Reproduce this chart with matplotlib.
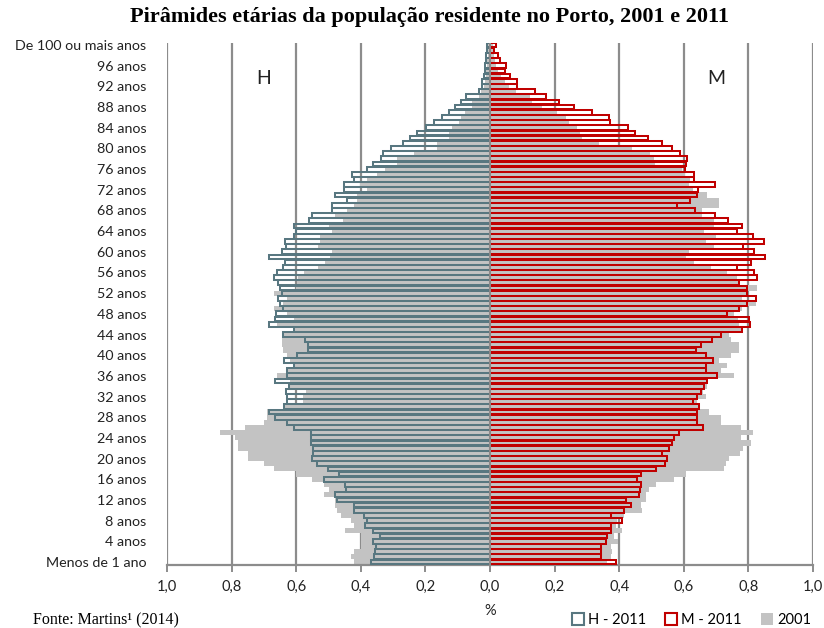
import numpy as np
import matplotlib.pyplot as plt
from matplotlib.patches import Patch

# ── Data (% of resident population, index = age; 0 = "Menos de 1 ano", 100 = "100+") ──
AGES = np.arange(101)

H_2011 = [0.368, 0.358, 0.357, 0.352, 0.362, 0.340, 0.362, 0.388, 0.381, 0.391,
          0.420, 0.420, 0.474, 0.479, 0.446, 0.448, 0.515, 0.467, 0.502, 0.536,
          0.551, 0.548, 0.548, 0.553, 0.553, 0.553, 0.606, 0.629, 0.666, 0.683,
          0.639, 0.629, 0.629, 0.631, 0.621, 0.667, 0.627, 0.630, 0.606, 0.637,
          0.598, 0.564, 0.564, 0.574, 0.641, 0.608, 0.683, 0.665, 0.662, 0.640,
          0.650, 0.655, 0.645, 0.650, 0.655, 0.668, 0.660, 0.640, 0.634, 0.683,
          0.645, 0.631, 0.634, 0.608, 0.600, 0.606, 0.560, 0.551, 0.489, 0.489,
          0.443, 0.481, 0.453, 0.451, 0.420, 0.427, 0.381, 0.362, 0.339, 0.332,
          0.306, 0.270, 0.249, 0.226, 0.198, 0.174, 0.150, 0.126, 0.107, 0.091,
          0.073, 0.035, 0.026, 0.024, 0.020, 0.017, 0.015, 0.013, 0.011, 0.010, 0.009]

H_2001 = [0.420, 0.430, 0.420, 0.400, 0.400, 0.400, 0.450, 0.420, 0.430, 0.460,
          0.474, 0.480, 0.480, 0.515, 0.500, 0.515, 0.550, 0.600, 0.670, 0.700,
          0.750, 0.750, 0.780, 0.780, 0.790, 0.836, 0.760, 0.700, 0.690, 0.690,
          0.639, 0.580, 0.580, 0.570, 0.621, 0.620, 0.660, 0.630, 0.606, 0.620,
          0.630, 0.640, 0.644, 0.644, 0.640, 0.610, 0.660, 0.606, 0.630, 0.670,
          0.640, 0.630, 0.668, 0.600, 0.598, 0.593, 0.577, 0.531, 0.510, 0.495,
          0.490, 0.531, 0.526, 0.526, 0.490, 0.497, 0.454, 0.479, 0.443, 0.422,
          0.412, 0.412, 0.381, 0.401, 0.381, 0.350, 0.324, 0.288, 0.288, 0.236,
          0.164, 0.164, 0.128, 0.128, 0.117, 0.097, 0.091, 0.076, 0.055, 0.055,
          0.035, 0.028, 0.020, 0.016, 0.013, 0.011, 0.009, 0.008, 0.007, 0.006, 0.005]

M_2011 = [0.390, 0.343, 0.343, 0.343, 0.358, 0.363, 0.374, 0.374, 0.410, 0.374,
          0.415, 0.436, 0.420, 0.462, 0.465, 0.469, 0.456, 0.467, 0.513, 0.541,
          0.547, 0.533, 0.554, 0.565, 0.570, 0.585, 0.658, 0.640, 0.642, 0.642,
          0.648, 0.627, 0.642, 0.653, 0.663, 0.673, 0.704, 0.668, 0.668, 0.689,
          0.668, 0.637, 0.653, 0.686, 0.715, 0.780, 0.806, 0.802, 0.735, 0.772,
          0.795, 0.823, 0.795, 0.797, 0.772, 0.828, 0.818, 0.764, 0.808, 0.851,
          0.818, 0.782, 0.847, 0.815, 0.764, 0.780, 0.737, 0.697, 0.636, 0.579,
          0.620, 0.641, 0.643, 0.697, 0.633, 0.633, 0.605, 0.608, 0.610, 0.589,
          0.565, 0.533, 0.488, 0.450, 0.427, 0.373, 0.367, 0.316, 0.259, 0.213,
          0.174, 0.139, 0.084, 0.084, 0.063, 0.046, 0.048, 0.032, 0.025, 0.012, 0.020]

M_2001 = [0.363, 0.374, 0.379, 0.374, 0.396, 0.384, 0.410, 0.390, 0.394, 0.415,
          0.472, 0.467, 0.482, 0.482, 0.492, 0.513, 0.570, 0.606, 0.725, 0.730,
          0.740, 0.774, 0.782, 0.808, 0.777, 0.813, 0.777, 0.714, 0.714, 0.678,
          0.648, 0.640, 0.668, 0.660, 0.673, 0.673, 0.756, 0.714, 0.735, 0.710,
          0.746, 0.771, 0.771, 0.746, 0.740, 0.780, 0.770, 0.767, 0.756, 0.780,
          0.823, 0.780, 0.800, 0.828, 0.770, 0.766, 0.735, 0.684, 0.632, 0.606,
          0.616, 0.694, 0.668, 0.699, 0.663, 0.694, 0.692, 0.656, 0.656, 0.708,
          0.708, 0.672, 0.630, 0.617, 0.620, 0.605, 0.594, 0.510, 0.507, 0.496,
          0.440, 0.337, 0.285, 0.280, 0.270, 0.244, 0.234, 0.208, 0.161, 0.130,
          0.125, 0.079, 0.060, 0.045, 0.035, 0.025, 0.020, 0.015, 0.012, 0.010, 0.008]

Y_TICKS = list(range(0, 101, 4))
Y_LABELS = ['Menos de 1 ano'] + [f'{a} anos' for a in range(4, 100, 4)] + ['De 100 ou mais anos']
X_TICKS = np.round(np.arange(-1.0, 1.01, 0.2), 1)

TEAL = '#587780'
RED = '#c00000'
GREY = '#c3c3c3'
GRID = '#8c8c8c'
SANS = 'Lato'
SERIF = 'Liberation Serif'

# ── Figure ────────────────────────────────────────────────────────────────────
fig = plt.figure(figsize=(8.24, 6.28), dpi=100)
ax = fig.add_axes([167 / 824, 1 - 564.5 / 628, 646 / 824, 522 / 628])

h01 = -np.array(H_2001)
h11 = -np.array(H_2011)
ax.barh(AGES, h01, height=1.0, color=GREY, linewidth=0, zorder=2)
ax.barh(AGES, M_2001, height=1.0, color=GREY, linewidth=0, zorder=2)
ax.barh(AGES, h11, height=0.92, facecolor='none', edgecolor=TEAL, linewidth=1.45, zorder=3)
ax.barh(AGES, M_2011, height=0.92, facecolor='none', edgecolor=RED, linewidth=1.45, zorder=3)
ax.axvline(0, color=GRID, linewidth=1.4, zorder=4)

ax.set_xlim(-1, 1)
ax.set_ylim(-0.5, 100.5)
ax.set_xticks(X_TICKS)
ax.set_xticklabels([f'{abs(v):.1f}'.replace('.', ',') for v in X_TICKS],
                   fontsize=10.5, family=SANS, color='#222222')
ax.set_yticks(Y_TICKS)
ax.set_yticklabels(Y_LABELS, fontsize=10.3, family=SANS, color='#222222')
ax.tick_params(axis='y', length=0, pad=15)
ax.tick_params(axis='x', length=5, width=1.4, color=GRID, pad=6, direction='out')

ax.xaxis.grid(True, color=GRID, linewidth=1.6, zorder=0)
ax.set_axisbelow(True)
for side in ('top', 'right', 'left'):
    ax.spines[side].set_visible(False)
ax.spines['bottom'].set_color(GRID)
ax.spines['bottom'].set_linewidth(1.6)

ax.text(-0.70, 93.5, 'H', fontsize=14, family=SANS, color='#222222', ha='center', va='center')
ax.text(0.70, 93.5, 'M', fontsize=14, family=SANS, color='#222222', ha='center', va='center')

fig.text(430 / 824, 1 - 17 / 628, 'Pirâmides etárias da população residente no Porto, 2001 e 2011',
         fontsize=16, family=SERIF, fontweight='bold', ha='center', va='center')
fig.text(490 / 824, 1 - 611 / 628, '%', fontsize=10.5, family=SANS, color='#222222',
         ha='center', va='center')
fig.text(33 / 824, 1 - 620 / 628, 'Fonte: Martins¹ (2014)', fontsize=11.5, family=SERIF,
         ha='left', va='center')

handles = [Patch(facecolor='white', edgecolor=TEAL, linewidth=1.5, label='H - 2011'),
           Patch(facecolor='white', edgecolor=RED, linewidth=1.5, label='M - 2011'),
           Patch(facecolor=GREY, edgecolor='none', label='2001')]
fig.legend(handles=handles, loc='center right', bbox_to_anchor=(824 / 824, 1 - 620 / 628),
           ncol=3, frameon=False, handlelength=0.8, handleheight=0.8,
           handletextpad=0.3, columnspacing=1.3, prop={'family': SANS, 'size': 10.5})

fig.savefig('out.png', dpi=100)
